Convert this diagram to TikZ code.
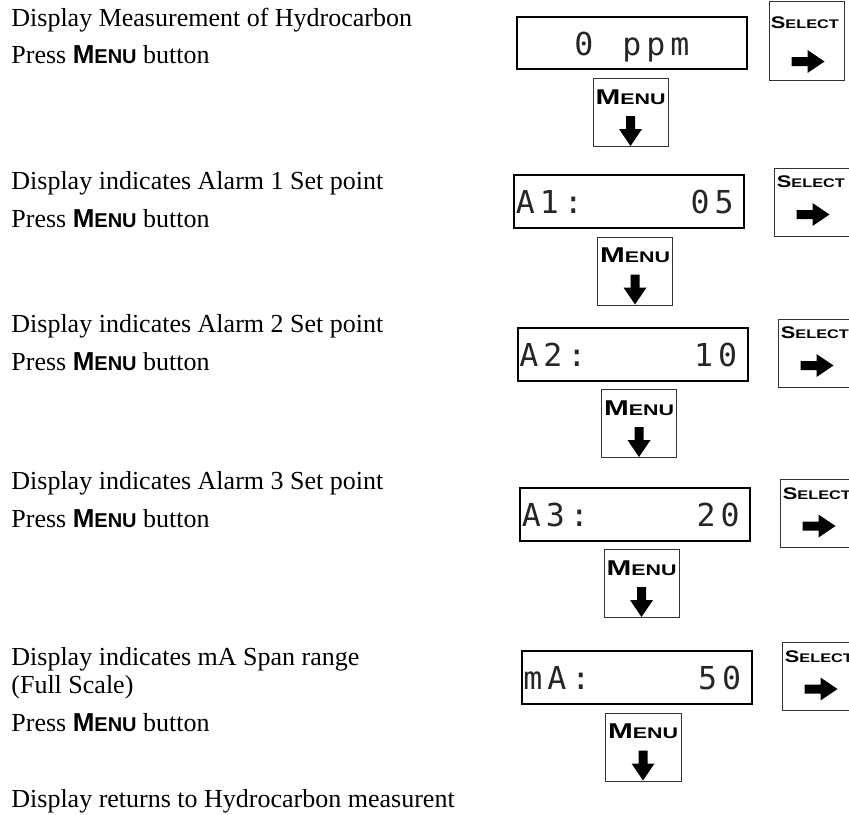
\documentclass[tikz,border=0pt]{standalone}
\usepackage{fontspec}
\usepackage{graphicx}
\setmainfont{Liberation Serif}
\setsansfont{Liberation Sans}
\newfontfamily\lcdfont{DejaVu Sans Mono}
\usetikzlibrary{calc}
\makeatletter
\newcommand\lcdstr[1]{\@tfor\lcd@c:=#1\do{\makebox[12pt]{\lcd@c}}}
\makeatother
\newcommand\menutxt{{\sffamily\bfseries\fontsize{13}{13}\selectfont M\fontsize{10}{10}\selectfont ENU}}
\newcommand\btnmenu{\scalebox{1.39}[1]{\sffamily\bfseries\fontsize{10.7}{10.7}\selectfont M\fontsize{7.7}{7.7}\selectfont ENU}}
\newcommand\btnselect{\scalebox{1.3}[1]{\sffamily\bfseries\fontsize{8.4}{8.4}\selectfont S\fontsize{6.25}{6.25}\selectfont ELECT}}
\tikzset{
  txt/.style={anchor=base west, inner sep=0pt, font=\fontsize{13}{15}\selectfont},
  lcdbox/.style={draw=black, line width=1pt, minimum width=115pt, minimum height=26.5pt, inner sep=0pt},
  btnbox/.style={draw=black!80, line width=0.5pt, minimum width=37.5pt, minimum height=34pt, inner sep=0pt},
  lcd/.style={inner sep=0pt, font=\lcdfont\fontsize{15.8}{16}\selectfont, text=black!85},
  btntxt/.style={inner sep=0pt, anchor=north},
  seltxt/.style={inner sep=0pt, anchor=north west},
  downarr/.pic={\fill (-4.5,-31) -- (4.5,-31) -- (4.5,-18) -- (11.5,-18) -- (0,-1) -- (-11.5,-18) -- (-4.5,-18) -- cycle;},
  rightarr/.pic={\fill (23,-4.5) -- (39,-4.5) -- (39,-11.5) -- (56,0) -- (39,11.5) -- (39,4.5) -- (23,4.5) -- cycle;}
}
\begin{document}
\begin{tikzpicture}[x=0.5pt,y=-0.5pt]
\useasboundingbox (0,0) rectangle (849,814);
\clip (0,0) rectangle (849,814);

% left texts
\node[txt] (t1a) at (11,26) {Display Measurement of Hydrocarbon};
\node[txt] (t1b) at (11,63) {Press \menutxt{} button};
\node[txt] (t2a) at (11,189) {Display indicates Alarm 1 Set point};
\node[txt] (t2b) at (11,227) {Press \menutxt{} button};
\node[txt] (t3a) at (11,332) {Display indicates Alarm 2 Set point};
\node[txt] (t3b) at (11,370) {Press \menutxt{} button};
\node[txt] (t4a) at (11,489) {Display indicates Alarm 3 Set point};
\node[txt] (t4b) at (11,527) {Press \menutxt{} button};
\node[txt] (t5a) at (11,665) {Display indicates mA Span range};
\node[txt] (t5b) at (11,693) {(Full Scale)};
\node[txt] (t5c) at (11,731) {Press \menutxt{} button};
\node[txt] (t6a) at (11,807) {Display returns to Hydrocarbon measurent};

% displays
\node[lcdbox, minimum height=26pt] (D1) at (632,43) {};
\node[lcdbox] (D2) at (629,201) {};
\node[lcdbox] (D3) at (632.5,354.5) {};
\node[lcdbox] (D4) at (635,514.5) {};
\node[lcdbox] (D5) at (636.5,677.5) {};

\node[lcd, anchor=base] (d1t) at ($(D1.center)+(0,12)$) {\lcdstr{0~ppm}};
\node[lcd, anchor=base west] (d2l) at ($(D2.west)+(0,12)$) {\lcdstr{A1:}};
\node[lcd, anchor=base east] (d2r) at ($(D2.east)+(-8.5,12)$) {\lcdstr{05}};
\node[lcd, anchor=base west] (d3l) at ($(D3.west)+(0,12)$) {\lcdstr{A2:}};
\node[lcd, anchor=base east] (d3r) at ($(D3.east)+(-8.5,12)$) {\lcdstr{10}};
\node[lcd, anchor=base west] (d4l) at ($(D4.west)+(0,12)$) {\lcdstr{A3:}};
\node[lcd, anchor=base east] (d4r) at ($(D4.east)+(-8.5,12)$) {\lcdstr{20}};
\node[lcd, anchor=base west] (d5l) at ($(D5.west)+(0,12)$) {\lcdstr{mA:}};
\node[lcd, anchor=base east] (d5r) at ($(D5.east)+(-8.5,12)$) {\lcdstr{50}};

% MENU buttons
\node[btnbox] (M1) at (630.5,112.5) {};
\node[btnbox] (M2) at (635,271) {};
\node[btnbox] (M3) at (639,423.5) {};
\node[btnbox] (M4) at (641.5,583.5) {};
\node[btnbox, minimum width=38pt] (M5) at (643,747) {};
\foreach \m in {M1,M2,M3,M4,M5}{
  \node[btntxt] (\m t) at ($(\m.north)+(0,11)$) {\btnmenu};
  \pic at (\m.south) {downarr};
}

% SELECT buttons
\node[btnbox, minimum height=39.5pt] (S1) at (806.5,40.5) {};
\node[btnbox] (S2) at (811.5,202) {};
\node[btnbox] (S3) at (815.5,353) {};
\node[btnbox] (S4) at (817.5,513.5) {};
\node[btnbox] (S5) at (819.5,676.5) {};
\node[seltxt] (S1t) at ($(S1.north west)+(2,16)$) {\btnselect};
\pic at ($(S1.south west)+(0,-19)$) {rightarr};
\foreach \s in {S2,S3,S4,S5}{
  \node[seltxt] (\s t) at ($(\s.north west)+(3,8)$) {\btnselect};
  \pic at ($(\s.south west)+(0,-22)$) {rightarr};
}
\end{tikzpicture}
\end{document}
